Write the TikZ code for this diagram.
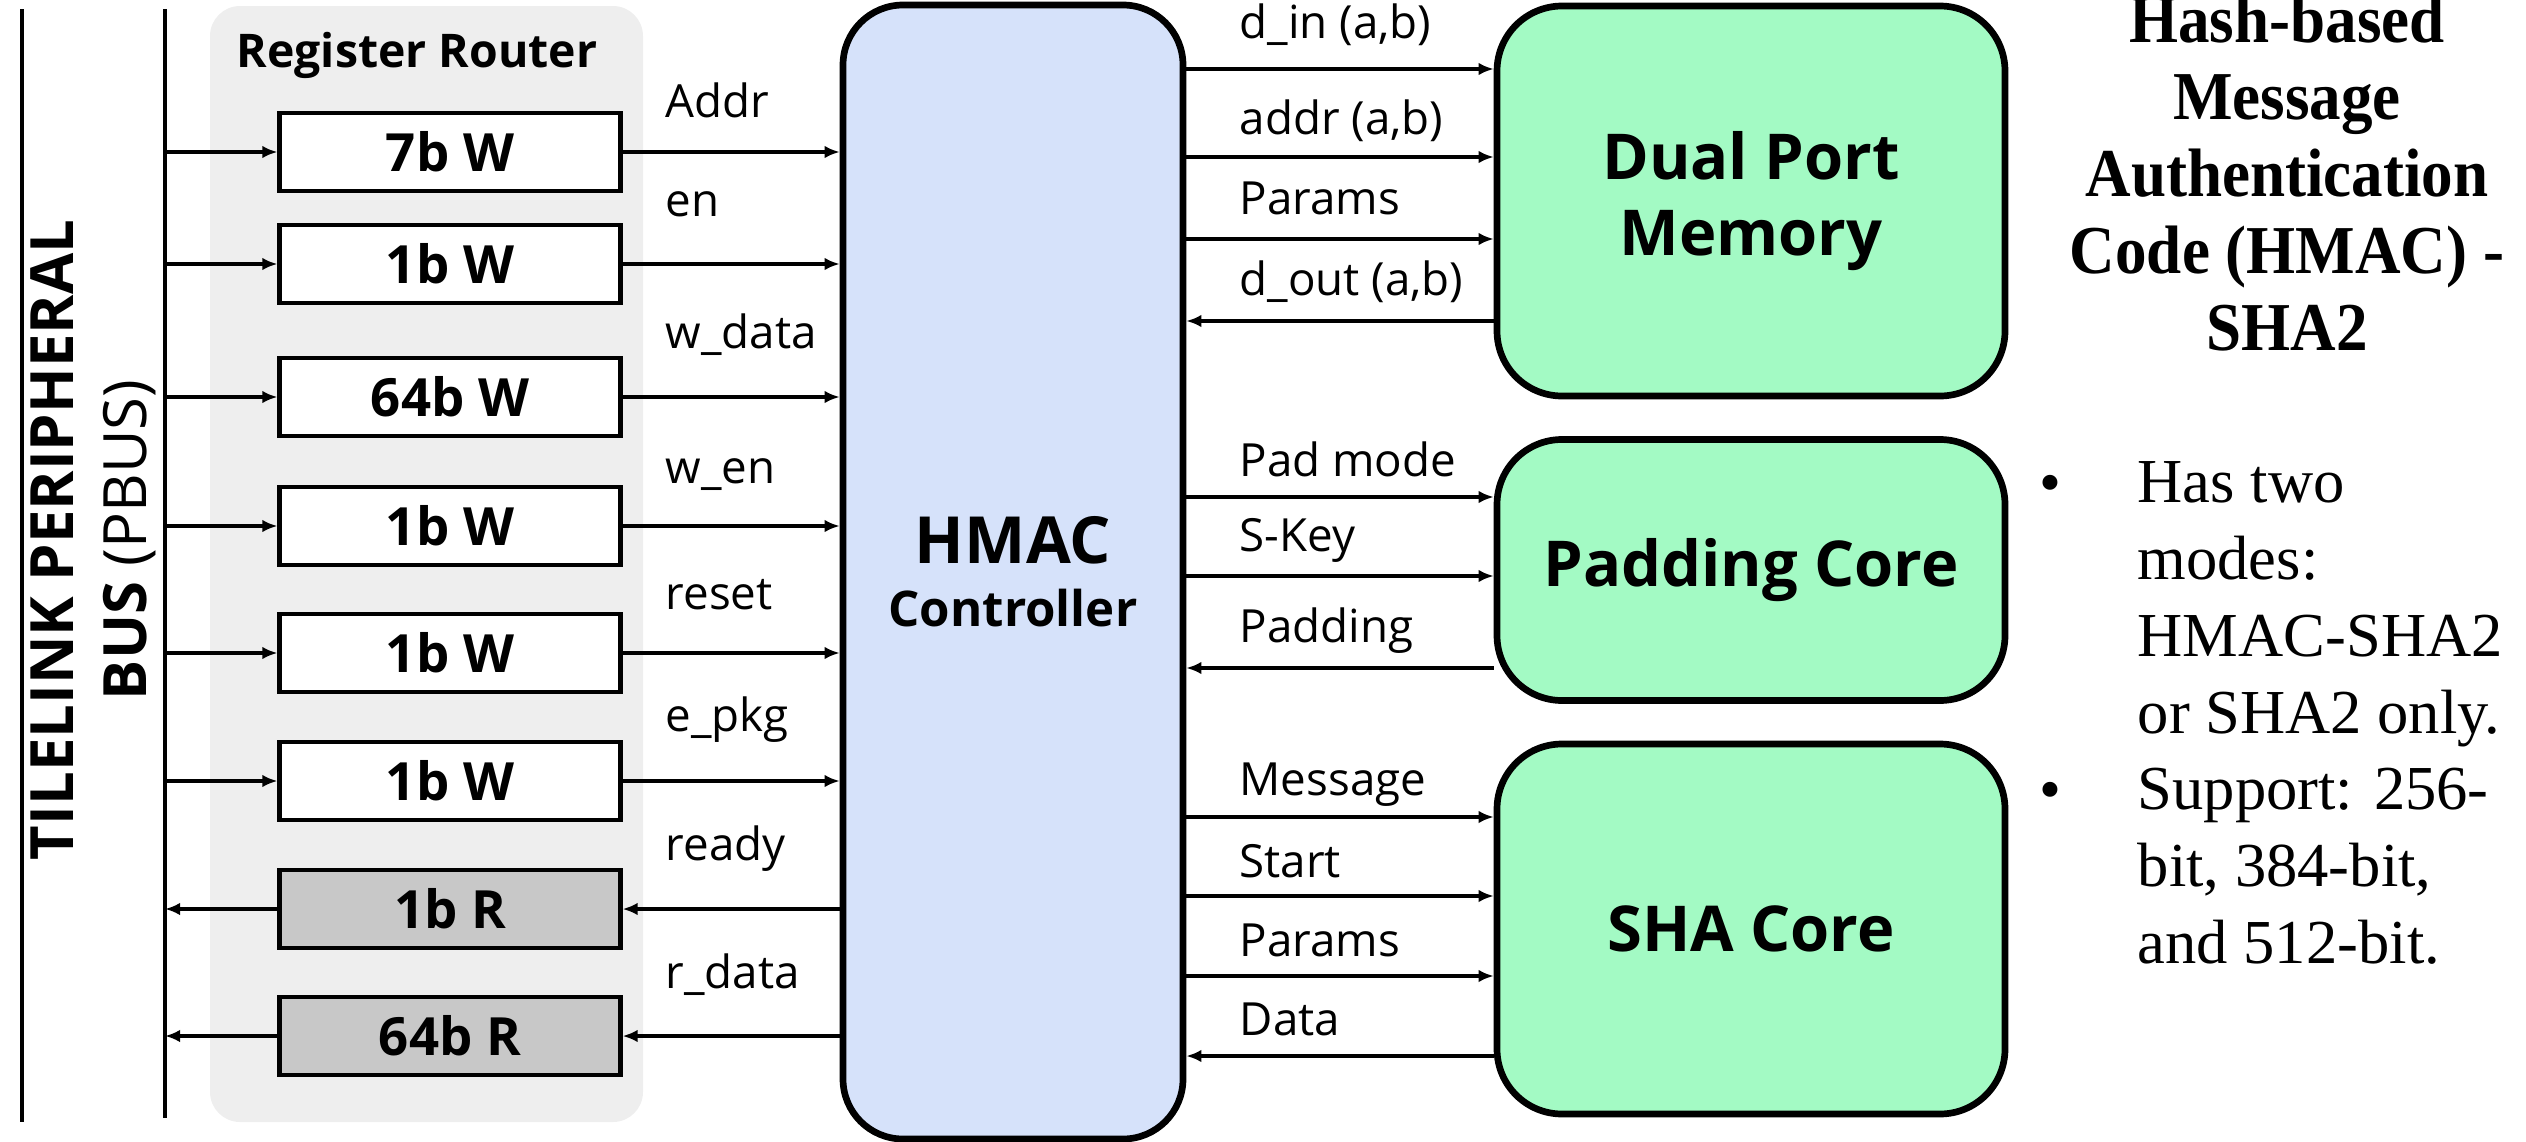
\documentclass[tikz,border=0pt]{standalone}
\usepackage{fontspec}
\setmainfont{Open Sans}
\newfontfamily\serifttl{Liberation Serif}[FakeStretch=0.92]
\newfontfamily\serifbul{Liberation Serif}
\usetikzlibrary{arrows.meta,positioning}

\definecolor{routerbg}{RGB}{238,238,238}
\definecolor{readgray}{RGB}{200,200,200}
\definecolor{ctrlblue}{RGB}{214,226,250}
\definecolor{coregreen}{RGB}{163,250,196}

\tikzset{
  sig/.style={line width=0.9pt,-{Latex[length=4.3pt,width=3.6pt]}},
  regbox/.style={draw,line width=1.2pt,fill=white,minimum width=34.1mm,minimum height=7.8mm,
    inner sep=0pt,font=\fontsize{15}{18}\selectfont\bfseries},
  regrd/.style={regbox,fill=readgray},
  corebox/.style={draw,line width=1.9pt,fill=coregreen,rounded corners=6.5mm,minimum width=50.8mm,
    align=center,font=\fontsize{18}{21.6}\selectfont\bfseries},
  lbl/.style={anchor=base west,inner sep=0pt,font=\fontsize{13}{15}\selectfont},
  bul/.style={inner sep=0pt,font=\serifbul\fontsize{17.8}{21.9}\selectfont},
}

\begin{document}
\begin{tikzpicture}[x=0.1mm,y=-0.1mm]
  \useasboundingbox (0,0) rectangle (2526,1142);

  % register router panel
  \fill[routerbg,rounded corners=3mm] (210,6) rectangle (643,1122);
  \node[font=\fontsize{13.2}{15}\selectfont\bfseries] (rrtitle) at (417,55) {Register Router};

  % peripheral bus
  \coordinate (edgetop) at (22,9);
  \coordinate (edgebot) at (22,1122);
  \coordinate (bustop) at (165,9);
  \coordinate (busbot) at (165,1118);
  \draw[line width=1.4pt] (edgetop) -- (edgebot);
  \draw[line width=1.4pt] (bustop) -- (busbot);
  \node[rotate=90,align=center,font=\fontsize{17}{20.8}\selectfont] (pbus) at (93,540)
    {\textbf{TILELINK PERIPHERAL}\\\textbf{BUS} (PBUS)};

  % registers
  \node[regbox] (r1) at (450,152) {7b W};
  \node[regbox] (r2) at (450,264) {1b W};
  \node[regbox] (r3) at (450,397) {64b W};
  \node[regbox] (r4) at (450,526) {1b W};
  \node[regbox] (r5) at (450,653) {1b W};
  \node[regbox] (r6) at (450,781) {1b W};
  \node[regrd] (r7) at (450,909) {1b R};
  \node[regrd] (r8) at (450,1036) {64b R};

  % controller and cores
  \node[draw,line width=1.9pt,fill=ctrlblue,rounded corners=6mm,minimum width=34mm,minimum height=113.4mm,
    align=center,font=\fontsize{14}{18}\selectfont\bfseries] (hmac) at (1013,572)
    {{\fontsize{18.5}{18}\selectfont HMAC}\\Controller};
  \node[corebox,minimum height=39mm] (dpm) at (1751,201) {Dual Port\\Memory};
  \node[corebox,minimum height=26.1mm] (pad) at (1751,570) {Padding Core};
  \node[corebox,minimum height=37mm] (sha) at (1751,929) {SHA Core};

  % bus <-> registers <-> controller
  \foreach \r in {r1,r2,r3,r4,r5,r6}{
    \draw[sig] (\r.west -| bustop) -- (\r.west);
    \draw[sig] (\r.east) -- (\r.east -| hmac.west);
  }
  \foreach \r in {r7,r8}{
    \draw[sig] (\r.west) -- (\r.west -| bustop);
    \draw[sig] (\r.east -| hmac.west) -- (\r.east);
  }

  % controller <-> cores
  \foreach \y in {69,157,239} \draw[sig] (hmac.east |- 0,\y) -- (dpm.west |- 0,\y);
  \draw[sig] (dpm.west |- 0,321) -- (hmac.east |- 0,321);
  \foreach \y in {497,576} \draw[sig] (hmac.east |- 0,\y) -- (pad.west |- 0,\y);
  \draw[sig] (pad.west |- 0,668) -- (hmac.east |- 0,668);
  \foreach \y in {817,896,976} \draw[sig] (hmac.east |- 0,\y) -- (sha.west |- 0,\y);
  \draw[sig] (sha.west |- 0,1056) -- (hmac.east |- 0,1056);

  % signal names
  \foreach \t/\y [count=\i] in {Addr/117,en/216,w\_data/348,w\_en/483,reset/609,e\_pkg/731,ready/860,r\_data/988}
    \node[lbl] (lin\i) at (665,\y) {\t};
  \foreach \t/\y [count=\i] in {{d\_in (a,b)}/38,{addr (a,b)}/134,Params/214,{d\_out (a,b)}/295,
      Pad mode/476,S-Key/551,Padding/642,Message/795,Start/877,Params/956,Data/1035}
    \node[lbl] (lout\i) at (1239,\y) {\t};

  % description (base = last line)
  \node[anchor=base,align=center,inner sep=0pt,
    font=\serifttl\fontsize{19.5}{21.9}\selectfont\bfseries] (ttl) at (2287,350)
    {Hash-based\\Message\\Authentication\\Code (HMAC) -\\SHA2};
  \node[bul,anchor=base] (dot1) at (2050,503) {•};
  \node[bul,anchor=base west,align=left] (item1) at (2137,733) {Has two\\modes:\\HMAC-SHA2\\or SHA2 only.};
  \node[bul,anchor=base] (dot2) at (2050,810) {•};
  \node[bul,anchor=base west,align=left] (item2) at (2137,963) {Support: 256-\\bit, 384-bit,\\and 512-bit.};
\end{tikzpicture}
\end{document}
